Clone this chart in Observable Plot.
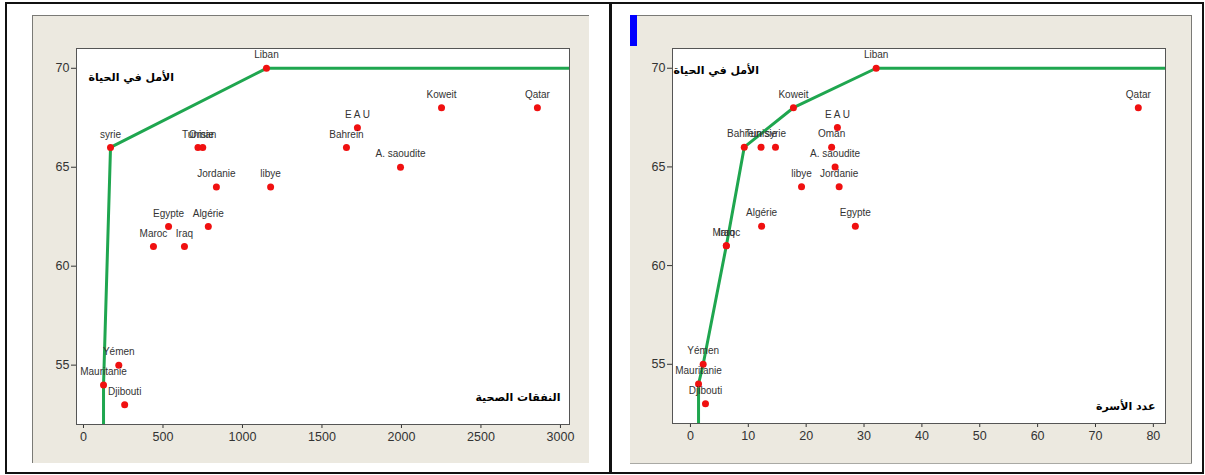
<!DOCTYPE html>
<html>
<head>
<meta charset="utf-8">
<script src="https://cdn.jsdelivr.net/npm/d3@7"></script>
<script src="https://cdn.jsdelivr.net/npm/@observablehq/plot@0.6"></script>
<style>
  html, body { margin: 0; padding: 0; background: #fff; }
  #sheet { position: relative; width: 1205px; height: 475px; overflow: hidden; }
  .cell { position: absolute; border: 2px solid #111; box-sizing: border-box; }
  .panel { position: absolute; }
  .edge { position: absolute; background: #7a7a76; }
</style>
</head>
<body>
<div id="sheet">
  <div class="cell" style="left:5px;top:2px;width:607px;height:472px"></div>
  <div class="cell" style="left:609px;top:2px;width:595px;height:472px"></div>
  <div id="left" class="panel" style="left:32px;top:15px"></div>
  <div id="right" class="panel" style="left:630px;top:15px"></div>
  <!-- panel box edges -->
  <div class="edge" style="left:32px;top:15px;width:557px;height:1px"></div>
  <div class="edge" style="left:32px;top:15px;width:1px;height:448px"></div>
  <div class="edge" style="left:630px;top:15px;width:562px;height:1px"></div>
  <div class="edge" style="left:1191px;top:15px;width:1px;height:449px"></div>
  <div class="edge" style="left:630px;top:463px;width:562px;height:1px;background:#a9a9a4"></div>
  <div style="position:absolute;left:630px;top:15px;width:7px;height:31px;background:#0000ff"></div>
</div>
<script>
// Countries and their values
const countries = ["Liban", "syrie", "Tunisie", "Oman", "Jordanie", "libye", "Egypte", "Algérie",
  "Maroc", "Iraq", "Yémen", "Mauritanie", "Djibouti", "Bahrein", "E A U", "A. saoudite", "Koweit", "Qatar"];
const lifeExpectancy = [70, 66, 66, 66, 64, 64, 62, 62, 61, 61, 55, 54, 53, 66, 67, 65, 68, 68];
const healthSpending = [1151, 170, 720, 750, 836, 1177, 535, 785, 440, 635, 222, 126, 259, 1654, 1723, 1994, 2252, 2855];
const bedCounts = [32.1, 14.7, 12.2, 24.4, 25.7, 19.2, 28.5, 12.3, 6.2, 6.2, 2.2, 1.4, 2.6, 9.3, 25.4, 25.0, 17.8, 77.4];

// Efficiency frontiers (envelope of best performers)
const spendFrontierX = [126, 126, 170, 1151, 3057];
const spendFrontierY = [52, 54, 66, 70, 70];
const bedsFrontierX = [1.4, 1.4, 2.2, 6.2, 9.3, 17.8, 32.1, 82.1];
const bedsFrontierY = [52, 54, 55, 61, 66, 68, 70, 70];

// Axis ticks
const lifeTicks = [55, 60, 65, 70];
const spendTicks = [0, 500, 1000, 1500, 2000, 2500, 3000];
const bedTicks = [0, 10, 20, 30, 40, 50, 60, 70, 80];

// Titles
const lifeTitle = "الأمل في الحياة";
const spendTitle = "النفقات الصحية";
const bedsTitle = "عدد الأسرة";

function scatter(o) {
  const pts = countries.map((name, i) => ({name, x: o.xValues[i], y: lifeExpectancy[i]}));
  const frontier = o.fx.map((x, i) => ({x, y: o.fy[i]}));
  return Plot.plot({
    width: o.width,
    height: o.height,
    marginLeft: o.margin[3],
    marginTop: o.margin[0],
    marginRight: o.margin[1],
    marginBottom: o.margin[2],
    style: {background: "#ECE9E0", fontFamily: "Liberation Sans, Arial, sans-serif", fontSize: "12.5px", color: "#333", overflow: "visible"},
    x: {domain: o.xDomain, ticks: o.xTicks, tickFormat: d => String(d), tickSize: 4, tickPadding: 4, label: null},
    y: {domain: [52, 71], ticks: lifeTicks, tickFormat: d => String(d), tickSize: 5, tickPadding: 2, label: null},
    marks: [
      Plot.frame({fill: "white", stroke: "none"}),
      Plot.line(frontier, {x: "x", y: "y", stroke: "#1fa64f", strokeWidth: 3, clip: true}),
      Plot.dot(pts, {x: "x", y: "y", r: 3.5, fill: "#f01010"}),
      Plot.text(pts, {x: "x", y: "y", text: "name", dy: -13, fontSize: 10, fill: "#333"}),
      Plot.text([o.yTitle], {frameAnchor: "top-left", text: d => d, textAnchor: "start",
        dx: o.yTitleAt[0], dy: o.yTitleAt[1], fontWeight: "bold", fontSize: 11,
        fontFamily: "DejaVu Sans", fill: "#000"}),
      Plot.text([o.xTitle], {frameAnchor: "bottom-right", text: d => d, textAnchor: "end",
        dx: o.xTitleAt[0], dy: o.xTitleAt[1], fontWeight: "bold", fontSize: 11,
        fontFamily: "DejaVu Sans", fill: "#000"}),
      Plot.frame({stroke: "#555"})
    ]
  });
}

document.getElementById("left").append(scatter({
  xValues: healthSpending, xDomain: [-44, 3057], xTicks: spendTicks,
  fx: spendFrontierX, fy: spendFrontierY,
  width: 557, height: 448, margin: [33, 20, 39, 44],
  yTitle: lifeTitle, yTitleAt: [12, 25],
  xTitle: spendTitle, xTitleAt: [-9, -24]
}));

document.getElementById("right").append(scatter({
  xValues: bedCounts, xDomain: [-3.1, 82.1], xTicks: bedTicks,
  fx: bedsFrontierX, fy: bedsFrontierY,
  width: 562, height: 449, margin: [33, 27, 41, 42],
  yTitle: lifeTitle, yTitleAt: [1, 18],
  xTitle: bedsTitle, xTitleAt: [-10, -14]
}));
</script>
</body>
</html>
